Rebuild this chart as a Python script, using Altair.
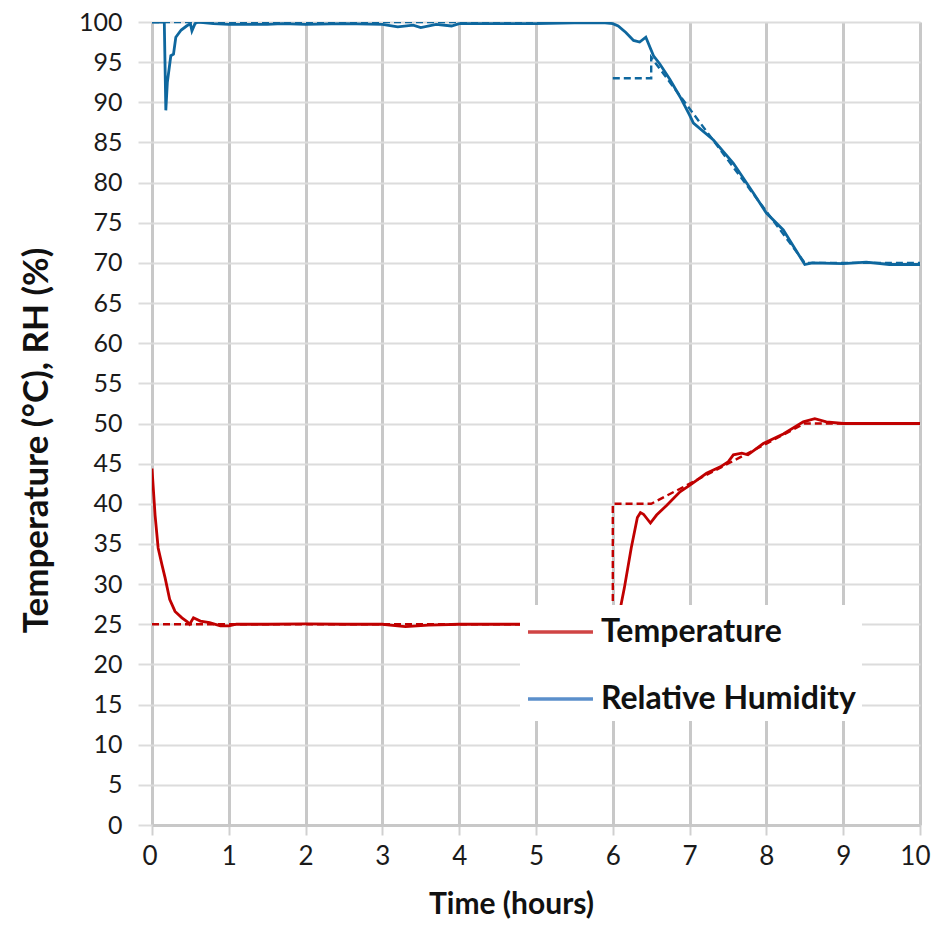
import altair as alt
import pandas as pd

# ---------------- data ----------------
series_names = ["Temperature", "Relative Humidity"]
series_ids = ["T", "H"]

temp_t = [0, 0.04, 0.08, 0.13, 0.17, 0.23, 0.3, 0.39, 0.46, 0.49, 0.54, 0.63, 0.75, 0.89, 1.0,
          1.1, 1.5, 2.0, 2.5, 3.0, 3.2, 3.3, 3.45, 3.6, 4.0, 4.5, 5.0, 5.5, 5.95, 6.02, 6.06,
          6.09, 6.15, 6.24, 6.32, 6.36, 6.40, 6.49, 6.57, 6.7, 6.875, 7.0, 7.22, 7.4, 7.5,
          7.57, 7.68, 7.76, 7.96, 8.22, 8.48, 8.63, 8.78, 9.0, 9.5, 10.0]
temp_v = [44.4, 38.6, 34.5, 32.4, 30.8, 28.1, 26.6, 25.8, 25.3, 25.0, 25.8, 25.4, 25.2, 24.8, 24.8,
          25.0, 25.0, 25.05, 25.0, 25.0, 24.8, 24.7, 24.8, 24.9, 25.0, 25.0, 25.0, 25.0, 25.0, 23.5, 24.5,
          26.6, 29.5, 34.5, 38.3, 38.9, 38.7, 37.6, 38.6, 39.8, 41.5, 42.3, 43.8, 44.6, 45.2,
          46.1, 46.3, 46.1, 47.5, 48.7, 50.2, 50.6, 50.2, 50.0, 50.0, 50.0]

rh_t = [0, 0.16, 0.18, 0.2, 0.245, 0.28, 0.31, 0.38, 0.45, 0.5, 0.52, 0.56, 0.6, 0.8, 1.0,
        1.5, 1.7, 2.0, 2.5, 3.0, 3.2, 3.4, 3.5, 3.7, 3.9, 4.0, 4.5, 5.0, 5.5, 5.9, 6.0,
        6.07, 6.17, 6.27, 6.35, 6.43, 6.53, 6.61, 6.74, 6.875, 7.0, 7.05, 7.31, 7.57, 7.83,
        8.0, 8.22, 8.35, 8.5, 8.6, 9.0, 9.3, 9.6, 10.0]
rh_v = [100, 100, 89.0, 92.5, 95.8, 96.0, 98.1, 99.0, 99.5, 99.8, 98.9, 99.8, 100, 99.8, 99.7,
        99.7, 99.8, 99.7, 99.8, 99.7, 99.4, 99.6, 99.3, 99.7, 99.5, 99.8, 99.8, 99.8, 99.9, 99.9, 99.8,
        99.5, 98.7, 97.7, 97.5, 98.1, 95.8, 94.8, 92.9, 90.7, 88.4, 87.4, 85.3, 82.4, 78.7,
        76.2, 74.1, 72.1, 69.8, 70.0, 69.9, 70.1, 69.8, 69.8]

# set points (dashed)
temp_sp_t = [0, 6, 6, 6.5, 8.5, 10]
temp_sp_v = [25, 25, 40, 40, 50, 50]
temp_sp_seg = [0, 0, 0, 0, 0, 0]

rh_sp_t = [0, 6, 6, 6.5, 6.5, 8.5, 10]
rh_sp_v = [100, 100, 93, 93, 95.6, 70, 70]
rh_sp_seg = [0, 0, 1, 1, 1, 1, 1]

x_ticks = list(range(0, 11))
y_ticks = list(range(0, 101, 5))

line_colors = ["#c00000", "#0e679e"]
legend_colors = ["#d04444", "#5b8fcb"]

# ---------------- tables ----------------
measured = pd.concat([
    pd.DataFrame({"t": temp_t, "v": temp_v, "sid": "T"}),
    pd.DataFrame({"t": rh_t, "v": rh_v, "sid": "H"}),
], ignore_index=True)

setp = pd.concat([
    pd.DataFrame({"t": temp_sp_t, "v": temp_sp_v, "seg": [f"T{s}" for s in temp_sp_seg],
                  "sid": "T", "i": range(len(temp_sp_t))}),
    pd.DataFrame({"t": rh_sp_t, "v": rh_sp_v, "seg": [f"H{s}" for s in rh_sp_seg],
                  "sid": "H", "i": range(len(rh_sp_t))}),
], ignore_index=True)

legend_df = pd.DataFrame({"t": [5.0, 5.0], "v": [-50.0, -50.0], "name": series_names})

FONT = "Lato"

x_enc = alt.X("t:Q", scale=alt.Scale(domain=[0, 10], nice=False),
              axis=alt.Axis(values=x_ticks, format="d", title="Time (hours)", grid=True,
                            gridColor="#c8c8c8", gridWidth=3,
                            domain=True, domainColor="#c8c8c8", domainWidth=3,
                            ticks=True, tickColor="#d0d0d0", tickWidth=2, tickSize=10,
                            labelFont=FONT, labelFontSize=26, labelColor="#1a1a1a",
                            labelPadding=8, labelFlush=True, labelFlushOffset=10,
                            titleFont=FONT, titleFontSize=30, titleFontWeight="bold",
                            titleColor="#111111", titlePadding=20, titleX=359))
y_enc = alt.Y("v:Q", scale=alt.Scale(domain=[0, 100], nice=False),
              axis=alt.Axis(values=y_ticks, format="d", title="Temperature (°C), RH (%)", grid=True,
                            gridColor="#dcdcdc", gridWidth=2, domain=False,
                            ticks=True, tickColor="#dcdcdc", tickWidth=2, tickSize=14,
                            labelFont=FONT, labelFontSize=25, labelColor="#1a1a1a",
                            labelPadding=16,
                            titleFont=FONT, titleFontSize=35, titleFontWeight="bold",
                            titleColor="#111111", titleX=-98, titleY=418))

stroke_scale = alt.Scale(domain=series_ids, range=line_colors)

meas_layer = alt.Chart(measured).mark_line(strokeWidth=2.8, clip=True).encode(
    x=x_enc, y=y_enc,
    stroke=alt.Stroke("sid:N", scale=stroke_scale, legend=None),
)

sp_layer = alt.Chart(setp).mark_line(strokeWidth=2.4, strokeDash=[7, 4], clip=True).encode(
    x="t:Q", y="v:Q",
    stroke=alt.Stroke("sid:N", scale=stroke_scale, legend=None),
    detail="seg:N",
    order=alt.Order("i:Q"),
)

legend_layer = alt.Chart(legend_df).mark_line(strokeWidth=3, clip=True).encode(
    x="t:Q", y="v:Q",
    color=alt.Color("name:N",
                    scale=alt.Scale(domain=series_names, range=legend_colors),
                    legend=alt.Legend(title=None, orient="none", legendX=368, legendY=583,
                                      direction="vertical", fillColor="white",
                                      padding=6, symbolType="M-1,0H2.42", symbolSize=1444,
                                      symbolStrokeWidth=3.5, labelFont=FONT,
                                      labelFontSize=32, labelFontWeight="bold",
                                      labelColor="#111111", labelOffset=33,
                                      rowPadding=30, labelLimit=400)),
)

chart = alt.layer(meas_layer, sp_layer, legend_layer).properties(
    width=768, height=803,
    autosize=alt.AutoSizeParams(type="none"),
    padding={"left": 144, "top": 14, "right": 11, "bottom": 95},
).configure_view(stroke=None).configure(background="white")

chart.save("out.html", embed_options={"renderer": "svg", "actions": False})
